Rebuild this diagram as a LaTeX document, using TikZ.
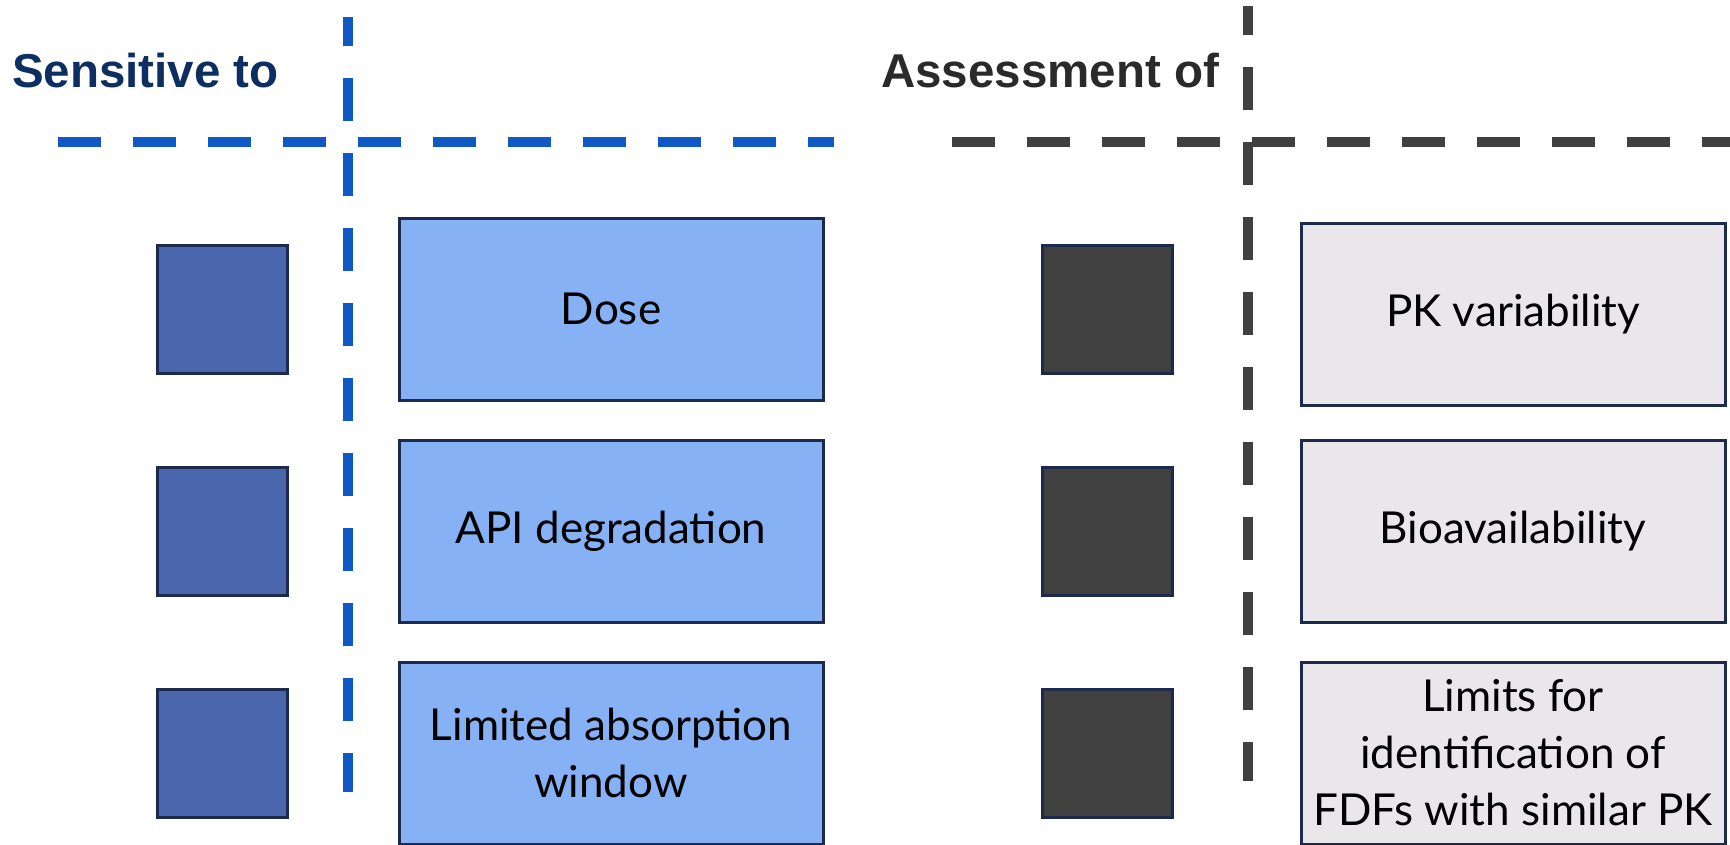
\documentclass[tikz,border=0pt]{standalone}
\usepackage{fontspec}
\setmainfont{Lato}
\newfontfamily\headfont{Liberation Sans}
\usepackage{tikz}
\usetikzlibrary{positioning}
\definecolor{SensNavy}{HTML}{0D2E61}
\definecolor{AssGray}{HTML}{2A2A2A}
\definecolor{DashBlue}{HTML}{1059C5}
\definecolor{DashGray}{HTML}{404040}
\definecolor{EdgeNavy}{HTML}{1D2A4E}
\definecolor{SqBlue}{HTML}{4A67AD}
\definecolor{BoxBlue}{HTML}{86B1F5}
\definecolor{SqGray}{HTML}{404040}
\definecolor{BoxGray}{HTML}{E9E7EA}
\tikzset{
    box/.style = {
       shape=rectangle, %no rounded corners here
       align=center,
       draw=EdgeNavy,
       line width=3pt,
       inner sep=0pt,
       minimum width = 424pt,
       minimum height = 182pt,
       font=\fontsize{44}{57}\selectfont
    },
    Sbox/.style = {box, fill = BoxBlue},
    Abox/.style = {box, fill = BoxGray},
    sq/.style = {
       shape=rectangle,
       draw=EdgeNavy,
       line width=3pt,
       minimum width = 130pt,
       minimum height = 128pt
    },
    Ssq/.style = {sq, fill = SqBlue},
    Asq/.style = {sq, fill = SqGray},
    head/.style = {
       anchor=base west,
       inner sep=0pt,
       font=\headfont\bfseries\fontsize{47.5}{50}\selectfont
    },
    axis/.style = {line width=10pt, dash pattern=on 42.5pt off 32.5pt}
}
\begin{document}
\begin{tikzpicture}[x=1pt,y=-1pt,node distance=37pt]
   \useasboundingbox (0,0) rectangle (1730,844);
   % left half: sensitive to
   \node[head, text=SensNavy] (Sensitive) at (12,87) {Sensitive to};
   \draw[axis, draw=DashBlue, dash phase=14pt] (348,17) -- (348,792);
   \draw[axis, draw=DashBlue] (58,142) -- (834,142);
   \node[Sbox] (Dose) at (611,309) {Dose};
   \node[Sbox] (API) [below = of Dose] {API degradation};
   \node[Sbox] (Window) [below = of API] {Limited absorption\\window};
   \node[Ssq] (S1) [left = 109pt of Dose] {};
   \node[Ssq] (S2) [left = 109pt of API] {};
   \node[Ssq] (S3) [left = 109pt of Window] {};
   % right half: assessment of
   \node[head, text=AssGray] (Assessment) at (881,87) {Assessment of};
   \draw[axis, draw=DashGray, dash phase=14pt] (1248,6) -- (1248,781);
   \draw[axis, draw=DashGray] (952,142) -- (1730,142);
   \node[Abox] (PK) at (1513,314) {PK variability};
   \node[Abox] (Bio) [below = 32pt of PK] {Bioavailability};
   \node[Abox] (Limits) [below = of Bio] {Limits for\\identification of\\FDFs with similar PK};
   \node[Asq] (A1) [left = 126pt of PK, yshift=5pt] {};
   \node[Asq] (A2) [left = 126pt of Bio] {};
   \node[Asq] (A3) [left = 126pt of Limits] {};
\end{tikzpicture}
\end{document}
